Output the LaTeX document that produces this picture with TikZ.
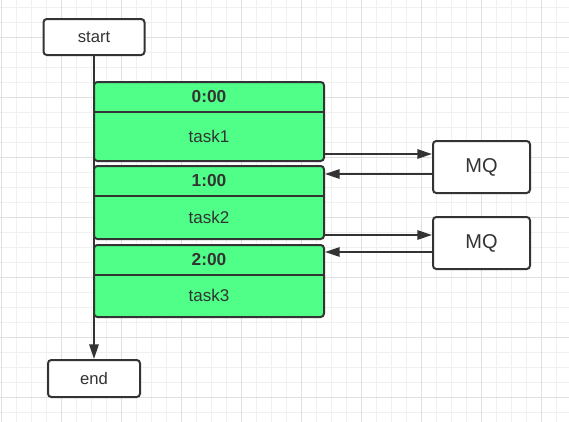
\documentclass[tikz,border=0pt]{standalone}
\usepackage{fontspec}
\setmainfont{Liberation Sans}
\usetikzlibrary{arrows.meta,positioning}
\definecolor{ink}{HTML}{333333}
\definecolor{taskgreen}{HTML}{4FFF88}
\definecolor{gridminor}{HTML}{F0F0F0}
\definecolor{gridmajor}{HTML}{E0E0E0}

\begin{document}
\begin{tikzpicture}[x=0.75pt, y=-0.75pt,
    box/.style={draw=ink, line width=1.5pt, rounded corners=2.5pt, fill=white, text=ink,
        font=\fontsize{12.5}{15}\selectfont, inner sep=0pt},
    task/.style={box, fill=taskgreen, minimum width=172.5pt},
    part/.style={inner sep=0pt, minimum width=172.5pt, text=ink},
    flow/.style={draw=ink, line width=1.5pt, -{Triangle[length=11pt, width=7pt]}}]
    % Grid
    \useasboundingbox (0,0) rectangle (569,422);
    \fill[white] (0,0) rectangle (569,422);
    \foreach \gx in {1,16,...,568} \draw[gridminor, line width=0.75pt] (\gx,0) -- (\gx,422);
    \foreach \gy in {7,22,...,421} \draw[gridminor, line width=0.75pt] (0,\gy) -- (569,\gy);
    \foreach \gx in {1,61,...,568} \draw[gridmajor, line width=0.75pt] (\gx,0) -- (\gx,422);
    \foreach \gy in {37,97,...,421} \draw[gridmajor, line width=0.75pt] (0,\gy) -- (569,\gy);

    % Start and end
    \node[box, minimum width=75.75pt, minimum height=27pt] (start) at (94,37) {start};
    \node[box, minimum width=69pt, minimum height=27.75pt] (end) at (94,378.5) {end};
    \draw[flow] (start.south) -- (start.south |- end.north);

    % Tasks
    \foreach \i/\yc/\h/\hb/\t in {1/121.5/59.25/36.75/0:00, 2/202.5/54.75/32.25/1:00, 3/281/54/31.5/2:00} {
        \node[task, minimum height=\h pt] (task\i) at (209,\yc) {};
        \node[part, anchor=north, minimum height=22.5pt, font=\fontsize{13}{15}\selectfont\bfseries] (head\i) at (task\i.north) {\t};
        \draw[ink, line width=1.5pt] (head\i.south west) -- (head\i.south east);
        \node[part, below=0pt of head\i, minimum height=\hb pt, font=\fontsize{12.75}{15}\selectfont] (body\i) {task\i};
    }

    % Queues
    \node[box, minimum width=72.75pt, minimum height=39pt, font=\fontsize{15}{18}\selectfont] (mq1) at (481.5,167) {MQ};
    \node[box, minimum width=72.75pt, minimum height=39pt, font=\fontsize{15}{18}\selectfont, below=16.5pt of mq1] (mq2) {MQ};

    % Messages
    \draw[flow] ([yshift=6pt]task1.south east) coordinate (a1) -- (a1 -| mq1.west);
    \draw[flow] ([yshift=-5.25pt]mq1.west) coordinate (b1) -- (b1 -| task2.east);
    \draw[flow] ([yshift=3.75pt]task2.south east) coordinate (a2) -- (a2 -| mq2.west);
    \draw[flow] ([yshift=-6.75pt]mq2.west) coordinate (b2) -- (b2 -| task3.east);
\end{tikzpicture}
\end{document}
